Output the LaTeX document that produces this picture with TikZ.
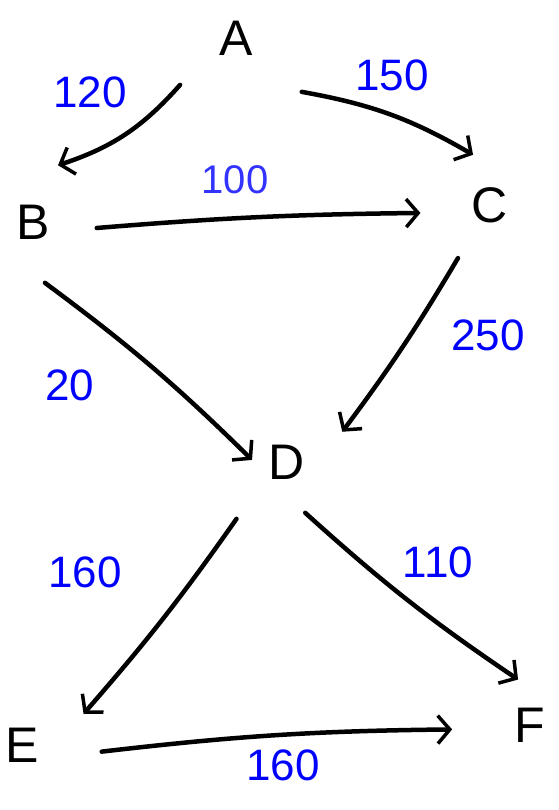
\documentclass[tikz,border=0pt]{standalone}
\usepackage{fontspec}
\setmainfont{Liberation Sans}
\usetikzlibrary{arrows.meta,calc}
\definecolor{lblue}{RGB}{0,0,255}
\tikzset{
  vtx/.style={inner sep=0pt, font=\fontsize{50}{50}\selectfont},
  wlab/.style={inner sep=0pt, text=lblue, font=\fontsize{44}{44}\selectfont},
  wlabthin/.style={inner sep=0pt, text=lblue!80, font=\fontsize{40}{40}\selectfont},
  edge/.style={line width=4.5pt, line cap=round, line join=round,
    -{Straight Barb[length=12pt,width=28pt,line width=3.5pt]}}
}
\begin{document}
\begin{tikzpicture}[x=1pt,y=-1pt]
\useasboundingbox (0,0) rectangle (558,810);
\fill[white] (0,0) rectangle (558,810);
% vertices
\node[vtx] (A) at (236,38) {A};
\node[vtx] (B) at (33,222) {B};
\node[vtx] (C) at (490,205) {C};
\node[vtx] (D) at (287,462) {D};
\node[vtx] (E) at (22,745) {E};
\node[vtx] (F) at (530,725) {F};
% edges
\draw[edge] ($(A)!73pt!-2.2:(B)$) to[bend left=15] ($(B)!62pt!24:(A)$);
\draw[edge] ($(A)!85pt!-6:(C)$) to[bend left=10] ($(C)!53pt!-38:(A)$);
\draw[edge] ($(B)!64pt!-7.5:(C)$) to[bend left=2] ($(C)!70pt!4.4:(B)$);
\draw[edge] ($(C)!62pt!7.2:(D)$) to[bend left=3] ($(D)!63pt!-23:(C)$);
\draw[edge] ($(B)!62pt!-35.5:(D)$) to[bend left=4] ($(D)!35pt!40:(B)$);
\draw[edge] ($(D)!76pt!1.5:(E)$) to[bend left=3] ($(E)!69pt!-20:(D)$);
\draw[edge] ($(D)!54pt!-23:(F)$) to[bend right=4] ($(F)!47pt!-28:(D)$);
\draw[edge] ($(E)!80pt!-7:(F)$) to[bend left=3] ($(F)!78pt!1:(E)$);
% weights
\node[wlab] (w1) at (90,92) {120};
\node[wlab] (w2) at (392,75) {150};
\node[wlabthin] (w3) at (235,180) {100};
\node[wlab] (w4) at (488,335) {250};
\node[wlab] (w5) at (70,385) {20};
\node[wlab] (w6) at (85,572) {160};
\node[wlab] (w7) at (438,562) {110};
\node[wlab] (w8) at (283,765) {160};
\end{tikzpicture}
\end{document}
